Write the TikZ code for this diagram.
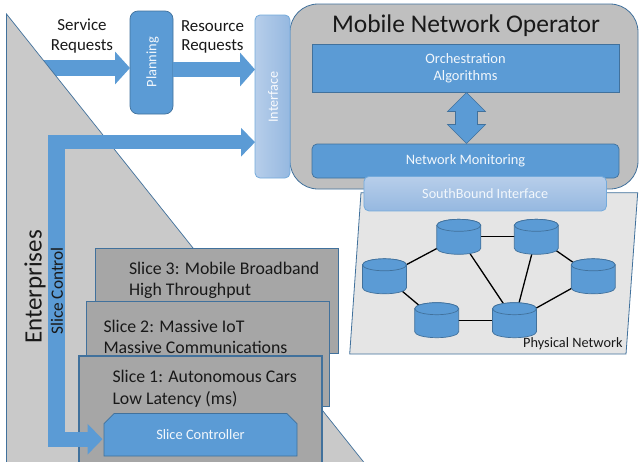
\documentclass[tikz,border=0pt]{standalone}
\usepackage{fontspec}
\setmainfont{Carlito}
\usetikzlibrary{arrows.meta,shapes.arrows,shapes.misc,calc}
\definecolor{blu}{HTML}{5B9BD5}
\definecolor{edge}{HTML}{41719C}
\definecolor{lite}{HTML}{B7CEEA}
\definecolor{lited}{HTML}{95B8E0}
\tikzset{
  x=1pt,y=-1pt,
  every node/.style={inner sep=0pt,outer sep=0pt},
  boxblue/.style={draw=edge,line width=0.7pt,fill=blu,text=white!92!blu,font=\fontsize{14.4}{17.5}\selectfont,align=center},
  glassbox/.style={draw=blu!85!white,line width=0.8pt,rounded corners=5pt,text=white!92!blu,font=\fontsize{14.2}{17}\selectfont,align=center},
  slicebox/.style={draw=edge,line width=1.3pt,fill=black!35,minimum width=243pt,minimum height=105pt},
  slicetext/.style={anchor=west,font=\fontsize{17.8}{21.5}\selectfont,align=left,text=black!90},
  labeltext/.style={font=\fontsize{16.9}{19.5}\selectfont,align=center,text=black!90},
  store/.style={minimum width=44pt,minimum height=35pt},
  link/.style={draw=black,line width=1.3pt},
  cylface/.style={draw=edge,line width=0.7pt,fill=blu}
}
\newcommand{\drawcyl}[1]{%
  \draw[cylface] ($(#1.north west)+(0,6)$) -- ($(#1.south west)+(0,-6)$)
    arc[start angle=180,end angle=360,x radius=22pt,y radius=6pt]
    -- ($(#1.north east)+(0,6)$)
    arc[start angle=0,end angle=180,x radius=22pt,y radius=6pt] -- cycle;
  \draw[cylface] ($(#1.north west)+(0,6)$)
    arc[start angle=180,end angle=360,x radius=22pt,y radius=6pt]
    arc[start angle=0,end angle=180,x radius=22pt,y radius=6pt] -- cycle;
}
\begin{document}
\begin{tikzpicture}
\clip (0,0) rectangle (639,461);
\fill[white] (0,0) rectangle (639,461);
% boxes that carry connectors
\node[boxblue,rounded corners=8pt,minimum width=43pt,minimum height=103pt] (planning) at (151.5,62.5) {};
\coordinate (svc) at (40,68);
\draw[blu,line width=16pt,-{Triangle[length=15pt,width=32pt]}] (svc) -- (planning.west |- svc);
% enterprises triangle
\draw[edge,line width=0.7pt,fill=black!21] (6.5,14) -- (366,465) -- (6.5,465) -- cycle;
\node[rotate=90,font=\fontsize{25}{29}\selectfont,text=black!90] (ent) at (35,287) {Enterprises};
% planes and operator
\draw[edge,line width=0.8pt,fill=black!10] (361,192.7) -- (637.7,192.7) -- (626,354) -- (349.7,354) -- cycle;
\node[draw=edge,line width=0.8pt,fill=black!25,rounded corners=28pt,minimum width=348pt,minimum height=185pt] (mno) at (464,96.5) {};
\node[font=\fontsize{25.5}{29}\selectfont,text=black!90] (mnot) at (466,26) {Mobile Network Operator};
\node[boxblue,minimum width=307pt,minimum height=48pt] (orch) at (465.5,68) {Orchestration\\Algorithms};
\node[boxblue,rounded corners=5pt,minimum width=307pt,minimum height=34pt] (mon) at (465.5,161) {Network Monitoring};
\node[double arrow,double arrow tip angle=90,draw=edge,line width=0.6pt,fill=blu,rotate=90,minimum height=51pt,minimum width=38pt,inner sep=9.5pt] (updown) at ($(orch.south)!0.5!(mon.north)+(1,0)$) {};
\node[glassbox,left color=lite,right color=lited,minimum width=35pt,minimum height=163pt] (iface) at (272.5,96.5) {};
\node[rotate=90,text=white!90!lite,font=\fontsize{14.2}{17}\selectfont] (ifacet) at (273,97) {Interface};
\node[glassbox,top color=lite,bottom color=lited,minimum width=242.5pt,minimum height=34.5pt] (south) at (485.2,193.7) {SouthBound Interface};
\node[rotate=90,text=white!92!blu,font=\fontsize{14.4}{17}\selectfont] (plant) at (152.5,62) {Planning};
% request arrows
\coordinate (res) at (173,69.5);
\draw[blu,line width=15pt,-{Triangle[length=15pt,width=33pt]}] (res) -- (iface.west |- res);
\node[labeltext] (srv) at (82,36) {Service\\Requests};
\node[labeltext] (rsc) at (212.5,37) {Resource\\Requests};
% slices
\node[slicebox] (s3) at (217.2,301) {};
\node[slicetext] (s3t) at (129,280.5) {Slice 3: Mobile Broadband\\High Throughput};
\node[slicebox] (s2) at (208.2,353.8) {};
\node[slicetext] (s2t) at (103.5,337) {Slice 2: Massive IoT\\Massive Communications};
\node[slicebox,minimum height=110pt] (s1) at (200.5,411) {};
\node[slicetext] (s1t) at (112.5,388.5) {Slice 1: Autonomous Cars\\Low Latency (ms)};
\node[boxblue,chamfered rectangle,chamfered rectangle corners={north west,north east},chamfered rectangle xsep=5pt,chamfered rectangle ysep=5pt,minimum width=193pt,minimum height=42.5pt] (ctrl) at (200.5,434.8) {Slice Controller};
% slice control arrow
\coordinate (ctop) at (48,142.2);
\coordinate (cbot) at (48,439.2);
\draw[blu,line width=17pt] ($(ctop)+(8.5,-7.2)$) -- ($(cbot)+(8.5,7.5)$);
\draw[blu,line width=14.5pt,-{Triangle[length=14pt,width=28pt]}] (ctop) -- (iface.west |- ctop);
\draw[blu,line width=15pt,-{Triangle[length=15pt,width=30pt]},shorten >=1.5pt] (cbot) -- (ctrl.west |- cbot);
\node[rotate=90,font=\fontsize{17.3}{20}\selectfont,text=black!90] (sct) at (57,291) {Slice Control};
% physical network
\node[store] (c1) at (458.8,236.8) {};
\node[store] (c2) at (536.3,236.8) {};
\node[store] (c3) at (384.5,276.3) {};
\node[store] (c4) at (593.2,276.3) {};
\node[store] (c5) at (436.7,320.2) {};
\node[store] (c6) at (514.5,320.2) {};
\draw[link] (c1.center) -- (c2.center);
\draw[link] (c1.center) -- (c3.center);
\draw[link] (c1.center) -- (c6.center);
\draw[link] (c2.center) -- (c6.center);
\draw[link] (c2.center) -- (c4.center);
\draw[link] (c3.center) -- (c5.center);
\draw[link] (c5.center) -- (c6.center);
\draw[link] (c4.center) -- (c6.center);
\drawcyl{c1}\drawcyl{c2}\drawcyl{c3}\drawcyl{c4}\drawcyl{c5}\drawcyl{c6}
\node[anchor=east,font=\fontsize{14.3}{16}\selectfont,text=black!90] (pn) at (622.5,343.5) {Physical Network};
\end{tikzpicture}
\end{document}
